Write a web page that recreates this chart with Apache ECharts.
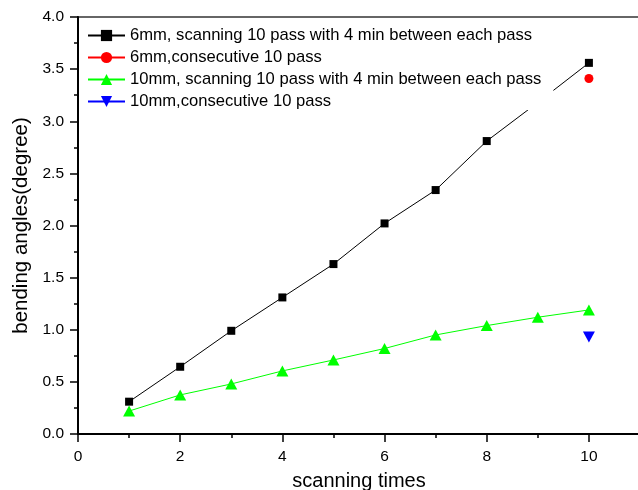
<!DOCTYPE html>
<html>
<head>
<meta charset="utf-8">
<script src="https://cdn.jsdelivr.net/npm/echarts@6/dist/echarts.min.js"></script>
<style>
  html, body { margin: 0; padding: 0; background: #fff; }
  #chart { width: 638px; height: 490px; }
</style>
</head>
<body>
<div id="chart"></div>
<script>
// scanning times (x)
const passes = [1, 2, 3, 4, 5, 6, 7, 8, 9, 10]
// bending angles (degree)
const mm6Interval = [0.31, 0.645, 0.99, 1.31, 1.63, 2.02, 2.34, 2.81, 3.18, 3.56]
const mm6Consecutive = [[10, 3.41]]
const mm10Interval = [0.22, 0.375, 0.48, 0.605, 0.71, 0.82, 0.95, 1.04, 1.12, 1.19]
const mm10Consecutive = [[10, 0.93]]
const seriesNames = [
  '6mm, scanning 10 pass with 4 min between each pass',
  '6mm,consecutive 10 pass',
  '10mm, scanning 10 pass with 4 min between each pass',
  '10mm,consecutive 10 pass',
]

const font = 'Liberation Sans, Arial, sans-serif'

function pairs(xs, ys) {
  return xs.map((x, i) => [x, ys[i]])
}

const chart = echarts.init(document.getElementById('chart'), null, { renderer: 'canvas' })

const option = {
  backgroundColor: '#fff',
  animation: false,
  // frame of the plot; the right side falls just outside the canvas
  grid: {
    left: 78, right: -2, top: 17, bottom: 56,
    containLabel: false, outerBoundsMode: 'none',
    show: true, borderColor: '#666', borderWidth: 2, backgroundColor: 'transparent',
  },
  legend: {
    orient: 'vertical',
    left: 80,
    top: 19,
    padding: [8, 12, 0, 7],
    itemGap: 5,
    itemWidth: 37,
    itemHeight: 14,
    backgroundColor: '#fff',
    textStyle: { fontFamily: font, fontSize: 16.6, color: '#000' },
    data: seriesNames,
  },
  xAxis: {
    type: 'value',
    min: 0,
    max: 11,
    interval: 2,
    name: 'scanning times',
    nameLocation: 'middle',
    nameGap: 37,
    nameTextStyle: { fontFamily: font, fontSize: 20, color: '#000' },
    axisLine: { lineStyle: { color: '#000', width: 2 } },
    axisTick: { inside: false, length: 8, lineStyle: { color: '#000', width: 1.5 } },
    minorTick: { show: true, splitNumber: 2, length: 4, lineStyle: { color: '#000', width: 1.5 } },
    axisLabel: {
      margin: 15,
      showMaxLabel: false,
      fontFamily: font,
      fontSize: 15.5,
      color: '#000',
    },
    splitLine: { show: false },
  },
  yAxis: {
    type: 'value',
    min: 0,
    max: 4,
    interval: 0.5,
    name: 'bending angles(degree)',
    nameLocation: 'middle',
    nameGap: 45,
    nameTextStyle: { fontFamily: font, fontSize: 20.5, color: '#000' },
    axisLine: { show: true, lineStyle: { color: '#000', width: 2 } },
    axisTick: { show: true, inside: false, length: 8, lineStyle: { color: '#000', width: 1.5 } },
    minorTick: { show: true, splitNumber: 2, length: 4, lineStyle: { color: '#000', width: 1.5 } },
    axisLabel: {
      margin: 14,
      fontFamily: font,
      fontSize: 15.5,
      color: '#000',
      formatter: v => v.toFixed(1),
    },
    splitLine: { show: false },
  },
  series: [
    {
      name: seriesNames[0],
      type: 'line',
      data: pairs(passes, mm6Interval),
      symbol: 'rect',
      symbolSize: 8,
      lineStyle: { color: '#000', width: 1 },
      itemStyle: { color: '#000' },
    },
    {
      name: seriesNames[1],
      type: 'line',
      data: mm6Consecutive,
      symbol: 'circle',
      symbolSize: 9,
      lineStyle: { color: '#ff0000', width: 1 },
      itemStyle: { color: '#ff0000' },
    },
    {
      name: seriesNames[2],
      type: 'line',
      data: pairs(passes, mm10Interval),
      symbol: 'triangle',
      symbolSize: [12, 11],
      lineStyle: { color: '#00ff00', width: 1 },
      itemStyle: { color: '#00ff00' },
    },
    {
      name: seriesNames[3],
      type: 'line',
      data: mm10Consecutive,
      symbol: 'triangle',
      symbolRotate: 180,
      symbolSize: [12, 11],
      lineStyle: { color: '#0000ff', width: 1 },
      itemStyle: { color: '#0000ff' },
    },
  ],
}

chart.setOption(option)
</script>
</body>
</html>
